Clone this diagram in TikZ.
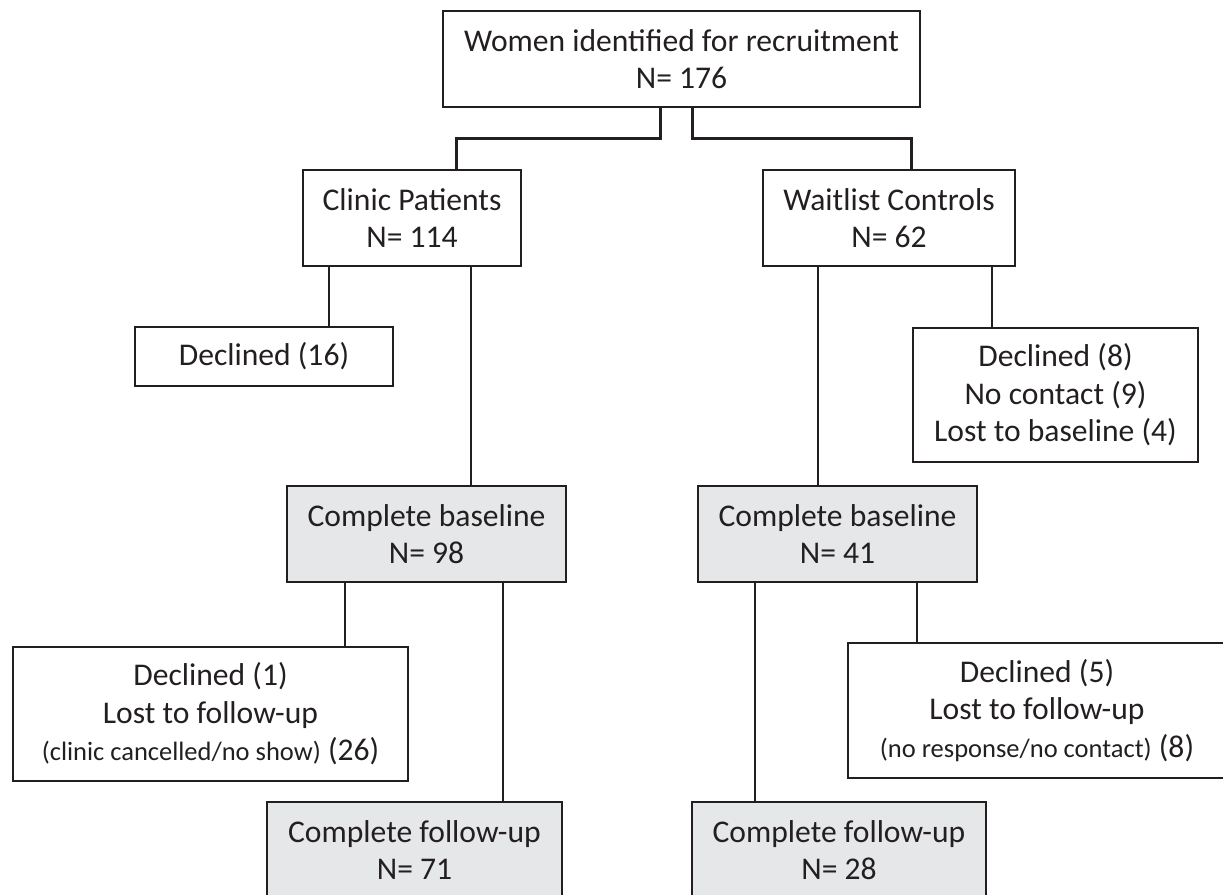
\documentclass[tikz,border=0pt]{standalone}
\usepackage{fontspec}
\setmainfont{Carlito}
\usepackage{tikz}

\definecolor{inkline}{HTML}{231F20}
\definecolor{donefill}{HTML}{E6E7E8}
\newcommand{\smallnote}[1]{{\fontsize{26.5}{37}\selectfont #1}}

\begin{document}
\begin{tikzpicture}[x=1pt,y=-1pt,
  box/.style={draw=inkline, line width=1.8pt, inner sep=0pt, align=center,
    font=\fontsize{31.6}{37.5}\selectfont, text=inkline},
  donebox/.style={box, fill=donefill},
  link/.style={draw=inkline, line width=1.8pt},
  mainlink/.style={draw=inkline, line width=3pt}]
  \useasboundingbox (0,0) rectangle (1223,894);
  \clip (0,0) rectangle (1223,894);

  \node[box, minimum width=477pt, minimum height=96pt] (women) at (681.5,59) {Women identified for recruitment\\N= 176};
  \node[box, minimum width=218pt, minimum height=96pt] (clinic) at (412,218) {Clinic Patients\\N= 114};
  \node[box, minimum width=252pt, minimum height=96pt] (waitlist) at (889,218) {Waitlist Controls\\N= 62};
  \node[box, minimum width=258pt, minimum height=59pt] (declinedc) at (264,356.5) {Declined (16)};
  \node[box, minimum width=285pt, minimum height=134pt] (declinedw) at (1055.5,395) {Declined (8)\\No contact (9)\\Lost to baseline (4)};
  \node[donebox, minimum width=279pt, minimum height=96pt] (basec) at (426.5,534) {Complete baseline\\N= 98};
  \node[donebox, minimum width=279pt, minimum height=96pt] (basew) at (837.5,534) {Complete baseline\\N= 41};
  \node[box, minimum width=395pt, minimum height=134pt] (lostc) at (210.5,714) {Declined (1)\\Lost to follow-up\\\smallnote{(clinic cancelled/no show)} (26)};
  \node[box, minimum width=378pt, minimum height=135pt] (lostw) at (1037,710.5) {Declined (5)\\Lost to follow-up\\\smallnote{(no response/no contact)} (8)};
  \node[donebox, minimum width=295pt, minimum height=96pt] (followc) at (414.5,850) {Complete follow-up\\N= 71};
  \node[donebox, minimum width=294pt, minimum height=96pt] (followw) at (839,850) {Complete follow-up\\N= 28};

  \coordinate (wl) at ([xshift=-21.5pt]women.south);
  \coordinate (wr) at ([xshift=10.5pt]women.south);
  \coordinate (cl) at ([xshift=-83pt]clinic.south);
  \coordinate (cr) at ([xshift=59pt]clinic.south);
  \coordinate (ul) at ([xshift=-71pt]waitlist.south);
  \coordinate (ur) at ([xshift=103pt]waitlist.south);
  \coordinate (bl) at ([xshift=-81.5pt]basec.south);
  \coordinate (br) at ([xshift=76.5pt]basec.south);
  \coordinate (vl) at ([xshift=-82.5pt]basew.south);
  \coordinate (vr) at ([xshift=79.5pt]basew.south);

  \draw[mainlink] (wl) -- ++(0,31) -| ([xshift=44pt]clinic.north);
  \draw[mainlink] (wr) -- ++(0,31) -| ([xshift=22pt]waitlist.north);
  \draw[link] (cl) -- (cl |- declinedc.north);
  \draw[link] (cr) -- (cr |- basec.north);
  \draw[link] (ul) -- (ul |- basew.north);
  \draw[link] (ur) -- (ur |- declinedw.north);
  \draw[link] (bl) -- (bl |- lostc.north);
  \draw[link] (br) -- (br |- followc.north);
  \draw[link] (vl) -- (vl |- followw.north);
  \draw[link] (vr) -- (vr |- lostw.north);
\end{tikzpicture}
\end{document}
